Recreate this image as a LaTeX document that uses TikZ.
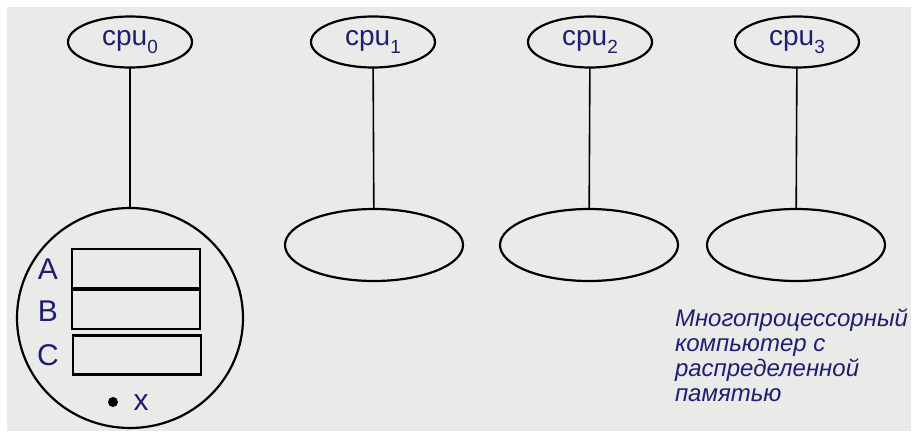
\documentclass[tikz,border=0pt]{standalone}
\usepackage{fontspec}
\setmainfont{Liberation Sans}
\usetikzlibrary{shapes.geometric}
\definecolor{ink}{HTML}{1E1E72}
\definecolor{paper}{HTML}{EAEAE8}
\newcommand\cpulabel[1]{cpu\raisebox{-0.3em}{\fontsize{19}{19}\selectfont #1}}
\begin{document}
\begin{tikzpicture}[x=1pt, y=-1pt,
  every node/.style={inner sep=0pt, outer sep=0pt},
  proc/.style={ellipse, draw, line width=2.2pt, minimum width=124pt, minimum height=51pt,
    font=\fontsize{28}{28}\selectfont, text=ink},
  mem/.style={ellipse, draw, line width=2.2pt, minimum width=178pt, minimum height=72pt},
  cell/.style={draw, line width=2.6pt, minimum width=128pt, minimum height=39pt},
  varname/.style={font=\fontsize{30}{30}\selectfont, text=ink},
  link/.style={line width=1.6pt}]
  % page with grey paper inside a thin white margin
  \useasboundingbox (0,0) rectangle (915,435);
  \fill[white] (0,0) rectangle (915,435);
  \fill[paper] (7,7) rectangle (911,431);

  % processors
  \node[proc] (cpu0) at (130,42) {\cpulabel{0}};
  \node[proc] (cpu1) at (373,42) {\cpulabel{1}};
  \node[proc] (cpu2) at (590,42) {\cpulabel{2}};
  \node[proc] (cpu3) at (797,42) {\cpulabel{3}};

  % local memories
  \node[ellipse, draw, line width=2.2pt, minimum width=226pt, minimum height=220pt] (mem0) at (130,318) {};
  \node[mem] (mem1) at (374,245) {};
  \node[mem] (mem2) at (589,245) {};
  \node[mem] (mem3) at (796,245) {};

  \draw[link] (cpu0) -- (mem0);
  \draw[link] (cpu1) -- (mem1);
  \draw[link] (cpu2) -- (mem2);
  \draw[link] (cpu3) -- (mem3);

  % variables held in the memory of cpu0
  \node[cell] (cellA) at (136,268.5) {};
  \node[cell] (cellB) at (136,309.5) {};
  \node[cell] (cellC) at (137,355) {};
  \node[varname] (labA) at (48,269) {A};
  \node[varname] (labB) at (48,311) {B};
  \node[varname] (labC) at (48,355) {C};
  \fill (113,402) circle (5pt);
  \node[font=\fontsize{30}{30}\selectfont, text=ink] (labx) at (141,403) {x};

  % caption
  \node[anchor=north west, align=left, text=ink,
        font=\fontsize{24}{25}\selectfont\itshape] (caption) at (675,309)
    {Многопроцессорный\\компьютер с\\распределенной\\памятью};
\end{tikzpicture}
\end{document}
